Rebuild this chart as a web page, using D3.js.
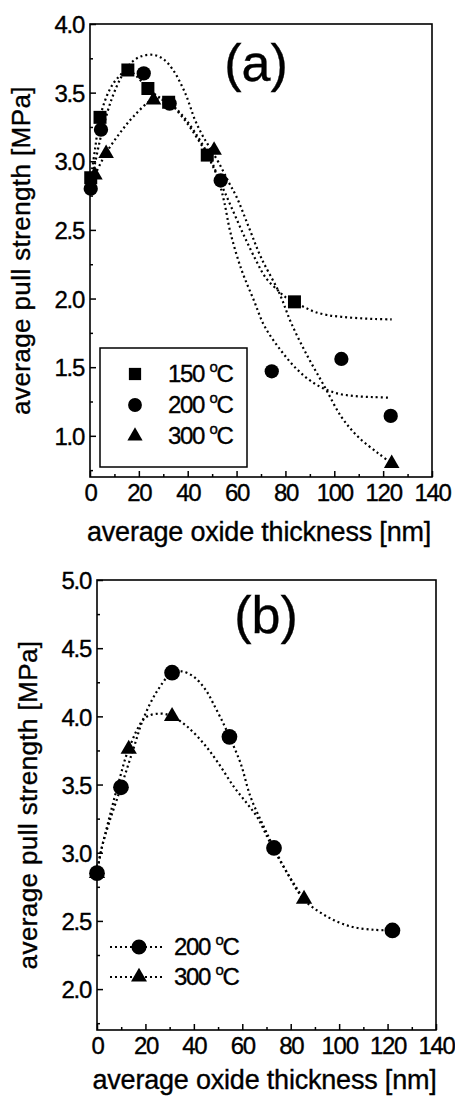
<!DOCTYPE html>
<html lang="en">
<head>
<meta charset="utf-8">
<title>pull strength</title>
<script src="https://cdn.jsdelivr.net/npm/d3@7"></script>
<style>
	body { margin: 0; background: #fff; }
	svg text { font-family: "Liberation Sans", Arial, sans-serif; fill: #000; stroke: #000; stroke-width: 0.35px; }
</style>
</head>
<body>
<script>

	// ---- data ----
	// panel (a): measured points [thickness nm, strength MPa]
	const a150 = [[0.3, 2.88], [4.1, 3.32], [15.5, 3.665], [23.7, 3.53], [32.2, 3.43], [48, 3.045], [83.7, 1.976]];
	const a200 = [[0.3, 2.80], [4.5, 3.23], [22, 3.64], [32.6, 3.42], [53.5, 2.86], [74.4, 1.47], [102.9, 1.56], [123.1, 1.145]];
	const a300 = [[2, 2.90], [6.6, 3.057], [26, 3.446], [50.8, 3.08], [123.5, 0.798]];

	// panel (a): dotted guide curves
	const fitA150 = [[0.3, 2.87], [2, 3.08], [4.1, 3.32], [8, 3.52], [12, 3.62], [15.5, 3.665], [19, 3.62], [23.7, 3.53],
		[28, 3.47], [32.2, 3.43], [37, 3.34], [42, 3.22], [48, 3.045], [53, 2.86], [58, 2.66], [63, 2.46], [67.9, 2.28],
		[72, 2.15], [76.9, 2.06], [80, 2.01], [83.7, 1.976], [88, 1.935], [92, 1.903], [97, 1.88], [102.9, 1.867],
		[110, 1.857], [117, 1.851], [123.5, 1.848]];
	const fitA200 = [[2, 2.90], [6.6, 3.06], [12, 3.20], [18, 3.33], [26, 3.45], [32, 3.43], [38, 3.33], [43, 3.21],
		[48, 3.06], [50.5, 2.97], [53, 2.84], [55, 2.70], [57.5, 2.48], [62, 2.21], [67, 1.99], [71.4, 1.80], [78, 1.625],
		[85, 1.48], [92, 1.38], [100, 1.315], [108, 1.29], [116, 1.282], [123, 1.278]];
	const fitA300 = [[0, 2.80], [2, 2.98], [5, 3.22], [9, 3.46], [13, 3.62], [17, 3.72], [21, 3.765], [26, 3.775],
		[30, 3.745], [34, 3.665], [39, 3.495], [43, 3.30], [46, 3.19], [49, 3.10], [53, 2.98], [57, 2.84], [60, 2.74],
		[65, 2.52], [70, 2.30], [77.5, 2.04], [82.4, 1.82], [89.2, 1.575], [96.1, 1.356], [102.9, 1.138],
		[109.8, 0.992], [118.1, 0.871], [123.5, 0.80]];

	// panel (b): measured points
	const b200 = [[0, 2.85], [9.9, 3.48], [31, 4.32], [54.7, 3.85], [73.1, 3.035], [122, 2.43]];
	const b300 = [[0, 2.85], [13.1, 3.76], [31, 4.0], [85.5, 2.66]];

	// panel (b): dotted guide curves
	const fitB200 = [[0, 2.85], [2, 3.04], [5, 3.22], [9.9, 3.48], [15, 3.76], [19.3, 3.99], [25, 4.19], [31, 4.32],
		[35, 4.33], [40, 4.29], [44.8, 4.196], [49, 4.06], [52.4, 3.94], [54.7, 3.85], [59.3, 3.656], [63.4, 3.41],
		[68.9, 3.19], [73.1, 3.035], [78.6, 2.85], [85.5, 2.656], [95.2, 2.53], [104.8, 2.459], [114.4, 2.435], [122, 2.43]];
	const fitB300 = [[0, 2.85], [1.4, 2.99], [5, 3.25], [9, 3.52], [13.1, 3.76], [20, 3.99], [26.2, 4.02], [31, 4.0],
		[37.2, 3.926], [44.1, 3.80], [50, 3.66], [56.5, 3.484], [62, 3.36], [66.2, 3.26], [70.3, 3.116], [73.1, 3.02],
		[78.6, 2.85], [85.5, 2.656]];

	// axes
	const xTicks = [0, 20, 40, 60, 80, 100, 120, 140];
	const xMinor = [10, 30, 50, 70, 90, 110, 130];
	const yTicksA = [1.0, 1.5, 2.0, 2.5, 3.0, 3.5, 4.0];
	const yMinorA = [0.75, 1.25, 1.75, 2.25, 2.75, 3.25, 3.75];
	const yTicksB = [2.0, 2.5, 3.0, 3.5, 4.0, 4.5, 5.0];
	const yMinorB = [1.75, 2.25, 2.75, 3.25, 3.75, 4.25, 4.75];

	const legendA = ["150", "200", "300"];
	const legendB = ["200", "300"];

	const xTitle = "average oxide thickness [nm]";
	const yTitle = "average pull strength [MPa]";

	// ---- drawing ----
	const svg = d3.select("body").append("svg")
		.attr("width", 455)
		.attr("height", 1100);

	const sym = (type, size) => d3.symbol().type(type).size(size)();

	function drawPanel(p) {

		const x = d3.scaleLinear().domain([0, 140]).range([p.left, p.right]);
		const y = d3.scaleLinear().domain(p.yDomain).range([p.bottom, p.top]);

		const g = svg.append("g");

		// frame
		g.append("rect")
			.attr("x", p.left).attr("y", p.top)
			.attr("width", p.right - p.left).attr("height", p.bottom - p.top)
			.attr("fill", "none").attr("stroke", "#000").attr("stroke-width", 1.6);

		// inward ticks
		const xAx = g.append("g").attr("transform", `translate(0,${p.bottom})`)
			.call(d3.axisBottom(x).tickValues(xTicks).tickSize(-6).tickPadding(7).tickFormat(d3.format("d")));
		g.append("g").attr("transform", `translate(0,${p.bottom})`)
			.call(d3.axisBottom(x).tickValues(xMinor).tickSize(-3).tickFormat(""));
		const yAx = g.append("g").attr("transform", `translate(${p.left},0)`)
			.call(d3.axisLeft(y).tickValues(p.yTicks).tickSize(-6).tickPadding(6).tickFormat(d3.format(".1f")));
		g.append("g").attr("transform", `translate(${p.left},0)`)
			.call(d3.axisLeft(y).tickValues(p.yMinor).tickSize(-3).tickFormat(""));

		g.selectAll(".domain").remove();
		g.selectAll(".tick line").attr("stroke", "#000").attr("stroke-width", 1.5);
		xAx.selectAll("text").attr("font-size", 24).attr("letter-spacing", -1.3).attr("dy", "0.72em");
		yAx.selectAll("text").attr("font-size", 24).attr("letter-spacing", -1.3).attr("dy", "0.36em");

		// titles
		g.append("text")
			.attr("x", (p.left + p.right) / 2 - 2).attr("y", p.xTitleY)
			.attr("text-anchor", "middle")
			.attr("font-size", 27)
			.attr("letter-spacing", -0.2)
			.text(xTitle);
		g.append("text")
			.attr("transform", `translate(${p.yTitleX},${(p.top + p.bottom) / 2}) rotate(-90)`)
			.attr("text-anchor", "middle")
			.attr("font-size", 26)
			.attr("letter-spacing", 0.4)
			.text(yTitle);

		// panel tag
		g.append("text")
			.attr("x", p.tagX).attr("y", p.tagY)
			.attr("text-anchor", "middle")
			.attr("font-size", 52)
			.text(p.tag);

		const line = d3.line()
			.x(d => x(d[0]))
			.y(d => y(d[1]))
			.curve(d3.curveCatmullRom);

		g.selectAll(".fit").data(p.fits).enter().append("path")
			.attr("d", line)
			.attr("fill", "none")
			.attr("stroke", "#000")
			.attr("stroke-width", 2.2)
			.attr("stroke-dasharray", "2,3");

		p.series.forEach(s => {
			g.selectAll(null).data(s.pts).enter().append("path")
				.attr("transform", d => `translate(${x(d[0])},${y(d[1])})`)
				.attr("d", sym(s.type, s.size))
				.attr("fill", "#000");
		});

		return { x, y, g };
	}

	function degLabel(g, x, y, t) {
		const tx = g.append("text")
			.attr("x", x).attr("y", y)
			.attr("font-size", 24)
			.attr("letter-spacing", -1.3);
		tx.append("tspan").text(t + " ");
		tx.append("tspan").attr("dy", -10).attr("font-size", 15).text("o");
		tx.append("tspan").attr("dy", 10).text("C");
	}

	// panel (a)
	const pa = drawPanel({
		left: 90, right: 432, top: 24, bottom: 477,
		yDomain: [0.7, 4.0], yTicks: yTicksA, yMinor: yMinorA,
		xTitleY: 541, yTitleX: 30,
		tag: "(a)", tagX: 256, tagY: 81,
		fits: [fitA150, fitA200, fitA300],
		series: [
			{ pts: a150, type: d3.symbolSquare, size: 169 },
			{ pts: a200, type: d3.symbolCircle, size: 160 },
			{ pts: a300, type: d3.symbolTriangle, size: 105 }
		]
	});

	// legend box (a)
	pa.g.append("rect")
		.attr("x", 100).attr("y", 348)
		.attr("width", 147).attr("height", 119)
		.attr("fill", "#fff").attr("stroke", "#000").attr("stroke-width", 1.5);
	const legA = [d3.symbolSquare, d3.symbolCircle, d3.symbolTriangle];
	const legASize = [150, 150, 100];
	legendA.forEach((t, i) => {
		const yy = 374 + i * 31;
		pa.g.append("path")
			.attr("transform", `translate(135,${yy})`)
			.attr("d", sym(legA[i], legASize[i]))
			.attr("fill", "#000");
		degLabel(pa.g, 168, yy + 8, t);
	});

	// panel (b)
	const pb = drawPanel({
		left: 97, right: 436, top: 580, bottom: 1030,
		yDomain: [1.7, 5.0], yTicks: yTicksB, yMinor: yMinorB,
		xTitleY: 1089, yTitleX: 37,
		tag: "(b)", tagX: 266, tagY: 633,
		fits: [fitB200, fitB300],
		series: [
			{ pts: b300, type: d3.symbolTriangle, size: 115 },
			{ pts: b200, type: d3.symbolCircle, size: 195 }
		]
	});

	// legend (b)
	const legB = [d3.symbolCircle, d3.symbolTriangle];
	const legBSize = [180, 110];
	legendB.forEach((t, i) => {
		const yy = 947 + i * 30;
		pb.g.append("line")
			.attr("x1", 110).attr("x2", 165).attr("y1", yy).attr("y2", yy)
			.attr("stroke", "#000").attr("stroke-width", 2.2).attr("stroke-dasharray", "2,3");
		pb.g.append("path")
			.attr("transform", `translate(139,${yy})`)
			.attr("d", sym(legB[i], legBSize[i]))
			.attr("fill", "#000");
		degLabel(pb.g, 174, yy + 8, t);
	});

</script>
</body>
</html>
